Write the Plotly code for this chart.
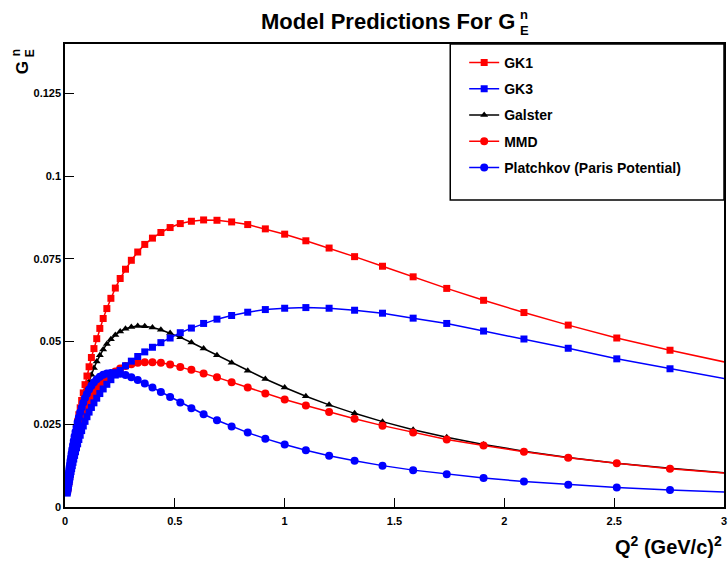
import plotly.graph_objects as go

# Q^2 sampling points (GeV/c)^2, log-spaced
q2 = [0.01, 0.01096, 0.01202, 0.01318, 0.01445, 0.01585, 0.01738, 0.01905, 0.02089, 0.02291,
      0.02512, 0.02754, 0.0302, 0.03311, 0.03631, 0.03981, 0.04365, 0.04786, 0.05248, 0.05754,
      0.0631, 0.06918, 0.07586, 0.08318, 0.0912, 0.1, 0.1096, 0.1202, 0.1318, 0.1445,
      0.1585, 0.1738, 0.1905, 0.2089, 0.2291, 0.2512, 0.2754, 0.302, 0.3311, 0.3631,
      0.3981, 0.4365, 0.4786, 0.5248, 0.5754, 0.631, 0.6918, 0.7586, 0.8318, 0.912,
      1.0, 1.0965, 1.2023, 1.3183, 1.4454, 1.5849, 1.7378, 1.9055, 2.0893, 2.2909,
      2.5119, 2.7542, 3.02]

gk1 = [0.00524, 0.00572, 0.00625, 0.00683, 0.00745, 0.00814, 0.00888, 0.00968, 0.01056, 0.0115,
       0.0125, 0.0136, 0.0148, 0.0161, 0.0174, 0.0189, 0.0205, 0.0222, 0.024, 0.0258,
       0.0279, 0.03, 0.0322, 0.0345, 0.037, 0.0396, 0.0424, 0.0452, 0.0479, 0.0509,
       0.054, 0.057, 0.06, 0.0631, 0.0662, 0.0691, 0.0719, 0.0746, 0.0771, 0.0794,
       0.0813, 0.083, 0.0845, 0.0857, 0.0864, 0.0868, 0.0867, 0.0862, 0.0854, 0.0841,
       0.0825, 0.0805, 0.0783, 0.0757, 0.0728, 0.0696, 0.0661, 0.0625, 0.0588, 0.055,
       0.0511, 0.0474, 0.0436]

gk3 = [0.0042, 0.0046, 0.005, 0.0055, 0.006, 0.0065, 0.0071, 0.0077, 0.0084, 0.0091,
       0.0099, 0.0107, 0.0116, 0.0125, 0.0135, 0.0145, 0.0156, 0.0167, 0.0179, 0.0191,
       0.0204, 0.0217, 0.0231, 0.0245, 0.0259, 0.0273, 0.0287, 0.0301, 0.0315, 0.0329,
       0.0343, 0.0357, 0.0371, 0.0385, 0.0399, 0.0413, 0.0427, 0.0441, 0.0455, 0.0469,
       0.0483, 0.0497, 0.0511, 0.0527, 0.0541, 0.0555, 0.0568, 0.0579, 0.0589, 0.0597,
       0.0601, 0.0603, 0.0601, 0.0595, 0.0586, 0.0571, 0.0555, 0.0532, 0.0508, 0.048,
       0.0448, 0.0418, 0.0386]

galster = [0.00519, 0.00566, 0.00618, 0.00674, 0.00735, 0.00802, 0.00873, 0.0095, 0.01034, 0.01124,
           0.01221, 0.01325, 0.01436, 0.01556, 0.01683, 0.01819, 0.01963, 0.02115, 0.02276, 0.02444,
           0.02621, 0.02804, 0.02994, 0.0319, 0.0339, 0.03593, 0.03796, 0.04, 0.04201, 0.04397,
           0.04586, 0.04764, 0.04927, 0.05075, 0.05204, 0.0531, 0.05391, 0.05445, 0.0547, 0.05465,
           0.05428, 0.05359, 0.0526, 0.0513, 0.04973, 0.0479, 0.04585, 0.0436, 0.04121, 0.0387,
           0.03612, 0.0335, 0.03089, 0.02832, 0.02581, 0.02339, 0.02109, 0.01891, 0.01688, 0.015,
           0.01326, 0.01168, 0.01024]

mmd = [0.0046, 0.005, 0.0055, 0.006, 0.0066, 0.0071, 0.0078, 0.0085, 0.0093, 0.0101,
       0.011, 0.012, 0.013, 0.0141, 0.0152, 0.0164, 0.0177, 0.019, 0.0203, 0.0217,
       0.0231, 0.0245, 0.026, 0.0275, 0.029, 0.0304, 0.0318, 0.0332, 0.0345, 0.0357,
       0.0369, 0.038, 0.039, 0.04, 0.041, 0.0419, 0.0426, 0.0432, 0.0436, 0.0438,
       0.0438, 0.0436, 0.0431, 0.0423, 0.0415, 0.0404, 0.0392, 0.0377, 0.0361, 0.0343,
       0.0325, 0.0307, 0.0287, 0.0267, 0.0246, 0.0225, 0.0204, 0.0186, 0.0167, 0.0149,
       0.0132, 0.0116, 0.0102]

platchkov = [0.00626, 0.00681, 0.00741, 0.00805, 0.00875, 0.00949, 0.01029, 0.01114, 0.01205, 0.01302,
             0.01404, 0.01513, 0.01627, 0.01747, 0.01873, 0.02004, 0.02139, 0.02279, 0.02423, 0.02568,
             0.02716, 0.02863, 0.0301, 0.03154, 0.03293, 0.03427, 0.03552, 0.03668, 0.03772, 0.03863,
             0.03938, 0.03996, 0.04036, 0.04055, 0.04054, 0.04032, 0.03989, 0.03924, 0.0384, 0.03735,
             0.03613, 0.03475, 0.03323, 0.03159, 0.02985, 0.02805, 0.02621, 0.02435, 0.02249, 0.02067,
             0.01888, 0.01716, 0.01552, 0.01397, 0.01251, 0.01115, 0.0099, 0.00874, 0.0077, 0.00675,
             0.00589, 0.00513, 0.00445]

x_ticks = [0, 0.5, 1, 1.5, 2, 2.5, 3]
x_tick_text = ["0", "0.5", "1", "1.5", "2", "2.5", "3"]
y_ticks = [0, 0.025, 0.05, 0.075, 0.1, 0.125]
y_tick_text = ["0", "0.025", "0.05", "0.075", "0.1", "0.125"]

RED = "#ff0000"
BLUE = "#0000ff"
BLACK = "#000000"
FONT = "Liberation Sans, Arial, Helvetica, sans-serif"

W, H = 728, 561
ML, MR, MT, MB = 65, 1, 44, 54


def px(x):
    return (x - ML) / (W - ML - MR)


def py(y):
    return (H - MB - y) / (H - MT - MB)


series = [
    # name, values, colour, symbol, size, legend rank
    ("Galster", galster, BLACK, "triangle-up", 7, 3),
    ("GK1", gk1, RED, "square", 7, 1),
    ("MMD", mmd, RED, "circle", 8, 4),
    ("GK3", gk3, BLUE, "square", 7, 2),
    ("Platchkov (Paris Potential)", platchkov, BLUE, "circle", 8, 5),
]

fig = go.Figure()
for name, vals, col, sym, size, rank in series:
    fig.add_trace(go.Scatter(
        x=q2, y=vals, mode="lines+markers", name=name,
        line=dict(color=col, width=1.5),
        marker=dict(color=col, symbol=sym, size=size, line=dict(width=0)),
        legendrank=rank, legendgroup=name,
    ))

axis_common = dict(
    showgrid=False, zeroline=False, showline=True, mirror=True,
    linecolor=BLACK, ticks="inside", ticklen=9, tickwidth=1, tickcolor=BLACK,
    tickfont=dict(family=FONT, size=11, color=BLACK, weight="bold"),
    ticklabeloverflow="allow",
)

fig.update_xaxes(range=[0, 3], tickvals=x_ticks, ticktext=x_tick_text, linewidth=2,
                 ticklabelstandoff=3, **axis_common)
fig.update_yaxes(range=[0, 0.14], tickvals=y_ticks, ticktext=y_tick_text, linewidth=1.5,
                 **axis_common)

annotations = [
    dict(text="<b>Model Predictions For G</b>", x=px(519), y=py(22), xanchor="right", yanchor="middle",
         font=dict(family=FONT, size=22, color=BLACK)),
    dict(text="<b>n</b>", x=px(520), y=py(14), xanchor="left", yanchor="middle",
         font=dict(family=FONT, size=13, color=BLACK)),
    dict(text="<b>E</b>", x=px(520), y=py(31), xanchor="left", yanchor="middle",
         font=dict(family=FONT, size=13, color=BLACK)),
    # vertical axis title
    dict(text="<b>G</b>", x=px(23), y=py(68), xanchor="center", yanchor="middle", textangle=-90,
         font=dict(family=FONT, size=17, color=BLACK)),
    dict(text="<b>n</b>", x=px(16), y=py(53), xanchor="center", yanchor="middle", textangle=-90,
         font=dict(family=FONT, size=12, color=BLACK)),
    dict(text="<b>E</b>", x=px(30), y=py(53), xanchor="center", yanchor="middle", textangle=-90,
         font=dict(family=FONT, size=12, color=BLACK)),
    # horizontal axis title
    dict(text="<b>Q<sup>2</sup> (GeV/c)<sup>2</sup></b>", x=px(727), y=py(545), xanchor="right",
         yanchor="middle", font=dict(family=FONT, size=20, color=BLACK)),
]
for a in annotations:
    a.update(xref="paper", yref="paper", showarrow=False)

fig.update_layout(
    width=W, height=H,
    margin=dict(l=ML, r=MR, t=MT, b=MB),
    paper_bgcolor="white", plot_bgcolor="white",
    showlegend=True,
    legend=dict(
        x=px(466), y=py(47), xanchor="left", yanchor="top",
        bgcolor="rgba(0,0,0,0)", borderwidth=0,
        font=dict(family=FONT, size=14, color=BLACK, weight="bold"),
        tracegroupgap=5, itemwidth=30,
    ),
    annotations=annotations,
    shapes=[dict(type="rect", xref="paper", yref="paper",
                 x0=px(452), x1=px(727), y0=py(200), y1=py(44),
                 line=dict(color=BLACK, width=1.5), fillcolor="rgba(0,0,0,0)")],
)

fig.write_html("out.html")
